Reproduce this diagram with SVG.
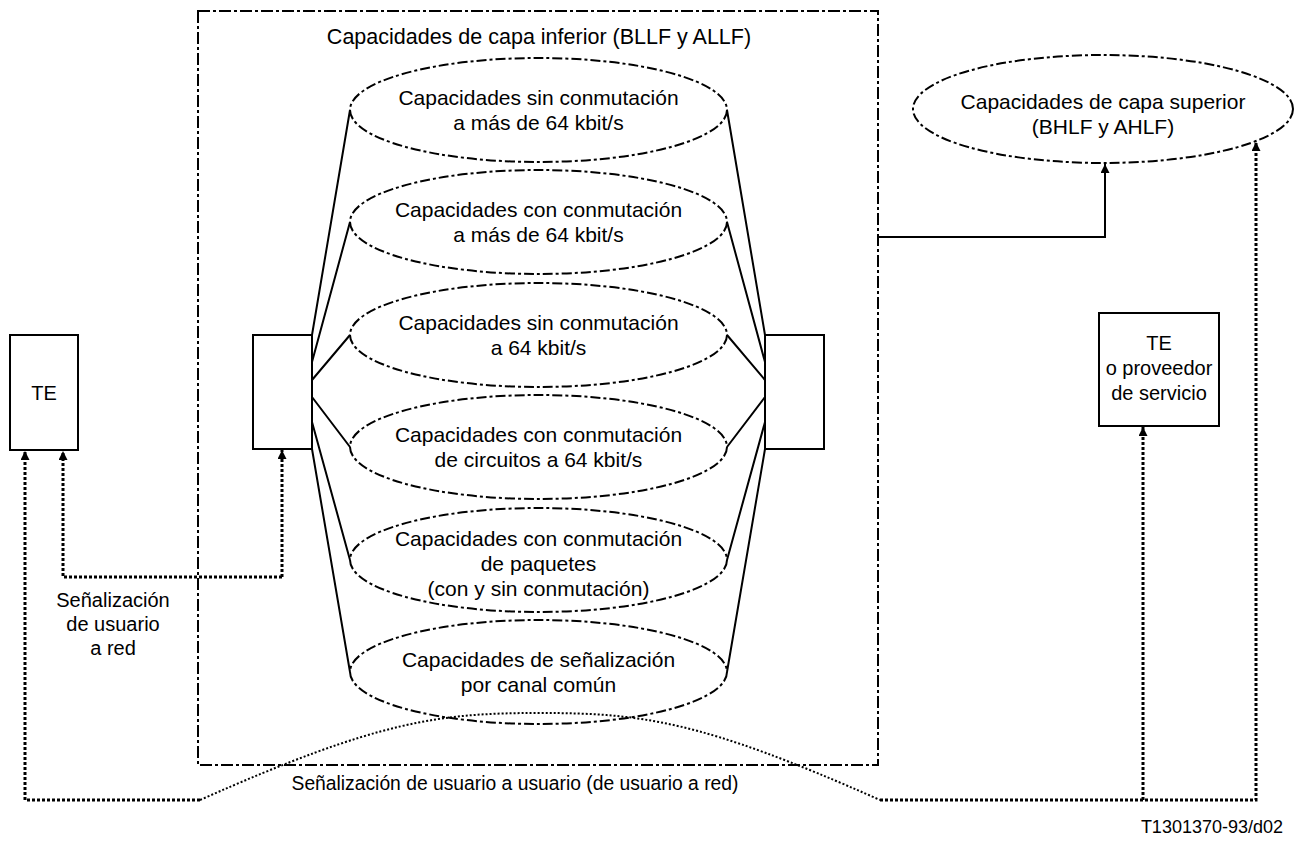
<svg xmlns="http://www.w3.org/2000/svg" width="1295" height="845" viewBox="0 0 1295 845">
<defs>
<style>
text{font-family:"Liberation Sans",Arial,sans-serif;font-size:21px;fill:#000;text-anchor:middle}
.box{fill:#fff;stroke:#000;stroke-width:2}
.frame{fill:none;stroke:#000;stroke-width:2;stroke-dasharray:12 3 3 3}
.ell{fill:none;stroke:#000;stroke-width:2;stroke-dasharray:10 3 3 3}
.solid{fill:none;stroke:#000;stroke-width:2}
.dot{fill:none;stroke:#000;stroke-width:3;stroke-dasharray:3 2}
.dotthin{fill:none;stroke:#000;stroke-width:2;stroke-dasharray:2 2}
</style>
<marker id="arr" viewBox="0 0 10 10" refX="10" refY="5" markerWidth="10" markerHeight="9" markerUnits="userSpaceOnUse" orient="auto">
<path d="M0,0 L10,5 L0,10 z" fill="#000"/>
</marker>
</defs>
<rect width="1295" height="845" fill="#fff"/>

<g id="lower-layer-frame">
<rect class="frame" x="198" y="11" width="680" height="754"/>
<text x="539" y="44" style="font-size:21.5px">Capacidades de capa inferior (BLLF y ALLF)</text>
</g>

<g id="connectors">
<g id="fan-left">
<path class="solid" d="M312,335 L350,110 M312,362 L350,222 M312,380 L350,335 M312,397 L350,447 M312,422 L350,560 M312,449 L350,672"/>
</g>
<g id="fan-right">
<path class="solid" d="M765,335 L727,110 M765,362 L727,222 M765,380 L727,335 M765,397 L727,447 M765,422 L727,560 M765,449 L727,672"/>
</g>
<path class="solid" d="M878,237 H1105 V164" marker-end="url(#arr)"/>
<path class="dot" d="M282,577 H63 V451" marker-end="url(#arr)"/>
<path class="dot" d="M282,577 V450" marker-end="url(#arr)"/>
<path class="dot" d="M200,800 H25 V451" marker-end="url(#arr)"/>
<path class="dotthin" d="M200,800 C380,720 440,713 540,713 C640,713 700,720 880,800"/>
<path class="dot" d="M880,800 H1256 V142" marker-end="url(#arr)"/>
<path class="dot" d="M1143,800 V427" marker-end="url(#arr)"/>
</g>

<g id="te-left">
<rect class="box" x="10" y="335" width="68" height="115"/>
<text x="44" y="400" style="font-size:20px">TE</text>
</g>
<g id="mux-left">
<rect class="box" x="253" y="335" width="59" height="114"/>
</g>
<g id="mux-right">
<rect class="box" x="765" y="335" width="59" height="114"/>
</g>
<g id="te-right">
<rect class="box" x="1099" y="313" width="120" height="113"/>
<text x="1159" y="350" style="font-size:20px">TE</text>
<text x="1159" y="375" style="font-size:20px">o proveedor</text>
<text x="1159" y="400" style="font-size:20px">de servicio</text>
</g>

<g id="cap1">
<ellipse class="ell" cx="538.5" cy="110" rx="188.5" ry="52"/>
<text x="538.5" y="105">Capacidades sin conmutación</text>
<text x="538.5" y="130">a más de 64 kbit/s</text>
</g>
<g id="cap2">
<ellipse class="ell" cx="538.5" cy="222" rx="188.5" ry="52"/>
<text x="538.5" y="217">Capacidades con conmutación</text>
<text x="538.5" y="242">a más de 64 kbit/s</text>
</g>
<g id="cap3">
<ellipse class="ell" cx="538.5" cy="335" rx="188.5" ry="52"/>
<text x="538.5" y="330">Capacidades sin conmutación</text>
<text x="538.5" y="355">a 64 kbit/s</text>
</g>
<g id="cap4">
<ellipse class="ell" cx="538.5" cy="447" rx="188.5" ry="52"/>
<text x="538.5" y="442">Capacidades con conmutación</text>
<text x="538.5" y="467">de circuitos a 64 kbit/s</text>
</g>
<g id="cap5">
<ellipse class="ell" cx="538.5" cy="560" rx="188.5" ry="52"/>
<text x="538.5" y="546">Capacidades con conmutación</text>
<text x="538.5" y="571">de paquetes</text>
<text x="538.5" y="596">(con y sin conmutación)</text>
</g>
<g id="cap6">
<ellipse class="ell" cx="538.5" cy="672" rx="188.5" ry="52"/>
<text x="538.5" y="667">Capacidades de señalización</text>
<text x="538.5" y="692">por canal común</text>
</g>

<g id="upper-layer">
<ellipse class="ell" cx="1103" cy="109" rx="190" ry="54"/>
<text x="1103" y="109">Capacidades de capa superior</text>
<text x="1103" y="134">(BHLF y AHLF)</text>
</g>

<g id="labels">
<text x="113" y="607" style="font-size:20px">Señalización</text>
<text x="113" y="631" style="font-size:20px">de usuario</text>
<text x="113" y="655" style="font-size:20px">a red</text>
<text x="515" y="790" style="font-size:19.3px">Señalización de usuario a usuario (de usuario a red)</text>
<text x="1283" y="833" style="font-size:18px;text-anchor:end">T1301370-93/d02</text>
</g>
</svg>
